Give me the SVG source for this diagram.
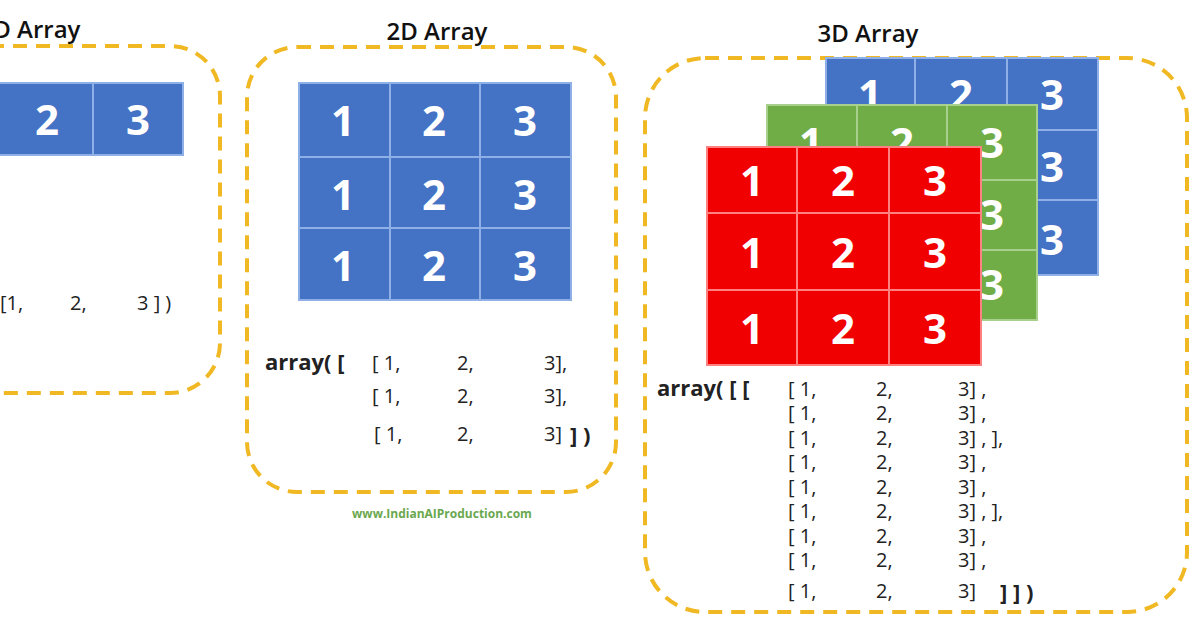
<svg xmlns="http://www.w3.org/2000/svg" width="1200" height="628" viewBox="0 0 1200 628">
<style>
.box{fill:none;stroke:#f0b823;stroke-width:4;stroke-dasharray:14 9}
.t{font-family:"Open Sans","Liberation Sans",sans-serif;font-size:24px;font-weight:600;fill:#111;text-anchor:middle}
.n{font-family:"Open Sans","Liberation Sans",sans-serif;font-size:42px;font-weight:bold;fill:#fff;text-anchor:middle}
.c{font-family:"Open Sans","Liberation Sans",sans-serif;font-size:20px;fill:#222}
.a{font-family:"Open Sans","Liberation Sans",sans-serif;font-size:22px;font-weight:bold;fill:#222}
.bl{fill:#4472c4;stroke:#8fb0e6;stroke-width:2}
.gr{fill:#70ad47;stroke:#a8d08d;stroke-width:2}
.rd{fill:#f00000;stroke:#ff8080;stroke-width:2}
</style>
<rect width="1200" height="628" fill="#fff"/>
<g id="array1d">
<text class="t" x="30" y="38">1D Array</text>
<rect class="box" x="-60" y="46" width="280" height="347" rx="50"/>
<rect class="bl" x="-2" y="83" width="95" height="72"/><rect class="bl" x="93" y="83" width="90" height="72"/>
<text class="n" x="47" y="135">2</text><text class="n" x="138" y="135">3</text>
<text class="c" x="0" y="310" font-size="21">[1,<tspan x="70">2,</tspan><tspan x="137">3 ] )</tspan></text>
</g>
<g id="array2d">
<text class="t" x="437" y="40">2D Array</text>
<rect class="box" x="247" y="47" width="369" height="445" rx="50"/>
<g>
<rect class="bl" x="299" y="83" width="91" height="74"/><rect class="bl" x="390" y="83" width="90" height="74"/><rect class="bl" x="480" y="83" width="91" height="74"/>
<rect class="bl" x="299" y="157" width="91" height="71"/><rect class="bl" x="390" y="157" width="90" height="71"/><rect class="bl" x="480" y="157" width="91" height="71"/>
<rect class="bl" x="299" y="228" width="91" height="72"/><rect class="bl" x="390" y="228" width="90" height="72"/><rect class="bl" x="480" y="228" width="91" height="72"/>
<text class="n" x="343" y="136">1</text><text class="n" x="434" y="136">2</text><text class="n" x="525" y="136">3</text>
<text class="n" x="343" y="210">1</text><text class="n" x="434" y="210">2</text><text class="n" x="525" y="210">3</text>
<text class="n" x="343" y="281">1</text><text class="n" x="434" y="281">2</text><text class="n" x="525" y="281">3</text>
</g>
<text class="a" x="265" y="370">array( [</text>
<text class="c" x="372" y="370">[ 1,<tspan x="457">2,</tspan><tspan x="544">3],</tspan></text>
<text class="c" x="372" y="403">[ 1,<tspan x="457">2,</tspan><tspan x="544">3],</tspan></text>
<text class="c" x="374" y="441">[ 1,<tspan x="457">2,</tspan><tspan x="544">3]</tspan></text>
<text class="a" x="570" y="443">] )</text>
<text x="442" y="518" font-family="'Open Sans','Liberation Sans',sans-serif" font-size="12" font-weight="bold" fill="#6aa84f" text-anchor="middle">www.IndianAIProduction.com</text>
</g>
<g id="array3d">
<text class="t" x="868" y="42">3D Array</text>
<rect class="box" x="645" y="58" width="542" height="554" rx="60"/>
<g id="layer-blue">
<rect class="bl" x="826" y="58" width="89" height="72"/><rect class="bl" x="915" y="58" width="92" height="72"/><rect class="bl" x="1007" y="58" width="91" height="72"/>
<rect class="bl" x="826" y="130" width="89" height="70"/><rect class="bl" x="915" y="130" width="92" height="70"/><rect class="bl" x="1007" y="130" width="91" height="70"/>
<rect class="bl" x="826" y="200" width="89" height="75"/><rect class="bl" x="915" y="200" width="92" height="75"/><rect class="bl" x="1007" y="200" width="91" height="75"/>
<text class="n" x="870" y="110">1</text><text class="n" x="961" y="110">2</text><text class="n" x="1052" y="110">3</text>
<text class="n" x="1052" y="182">3</text><text class="n" x="1052" y="255">3</text>
</g>
<g id="layer-green">
<rect class="gr" x="767" y="105" width="90" height="75"/><rect class="gr" x="857" y="105" width="90" height="75"/><rect class="gr" x="947" y="105" width="90" height="75"/>
<rect class="gr" x="767" y="180" width="90" height="70"/><rect class="gr" x="857" y="180" width="90" height="70"/><rect class="gr" x="947" y="180" width="90" height="70"/>
<rect class="gr" x="767" y="250" width="90" height="70"/><rect class="gr" x="857" y="250" width="90" height="70"/><rect class="gr" x="947" y="250" width="90" height="70"/>
<text class="n" x="811" y="158">1</text><text class="n" x="902" y="158">2</text><text class="n" x="992" y="158">3</text>
<text class="n" x="992" y="230">3</text><text class="n" x="992" y="300">3</text>
</g>
<g id="layer-red">
<rect class="rd" x="707" y="147" width="90" height="66"/><rect class="rd" x="797" y="147" width="92" height="66"/><rect class="rd" x="889" y="147" width="92" height="66"/>
<rect class="rd" x="707" y="213" width="90" height="77"/><rect class="rd" x="797" y="213" width="92" height="77"/><rect class="rd" x="889" y="213" width="92" height="77"/>
<rect class="rd" x="707" y="290" width="90" height="75"/><rect class="rd" x="797" y="290" width="92" height="75"/><rect class="rd" x="889" y="290" width="92" height="75"/>
<text class="n" x="752" y="196">1</text><text class="n" x="843" y="196">2</text><text class="n" x="935" y="196">3</text>
<text class="n" x="752" y="268">1</text><text class="n" x="843" y="268">2</text><text class="n" x="935" y="268">3</text>
<text class="n" x="752" y="344">1</text><text class="n" x="843" y="344">2</text><text class="n" x="935" y="344">3</text>
</g>
<text class="a" x="657" y="396">array( [ [</text>
<g>
<text class="c" x="788" y="396">[ 1,<tspan x="876">2,</tspan><tspan x="958">3] ,</tspan></text>
<text class="c" x="788" y="420">[ 1,<tspan x="876">2,</tspan><tspan x="958">3] ,</tspan></text>
<text class="c" x="788" y="445">[ 1,<tspan x="876">2,</tspan><tspan x="958">3] , ],</tspan></text>
<text class="c" x="788" y="469">[ 1,<tspan x="876">2,</tspan><tspan x="958">3] ,</tspan></text>
<text class="c" x="788" y="494">[ 1,<tspan x="876">2,</tspan><tspan x="958">3] ,</tspan></text>
<text class="c" x="788" y="518">[ 1,<tspan x="876">2,</tspan><tspan x="958">3] , ],</tspan></text>
<text class="c" x="788" y="543">[ 1,<tspan x="876">2,</tspan><tspan x="958">3] ,</tspan></text>
<text class="c" x="788" y="567">[ 1,<tspan x="876">2,</tspan><tspan x="958">3] ,</tspan></text>
<text class="c" x="788" y="598">[ 1,<tspan x="876">2,</tspan><tspan x="958">3]</tspan></text>
<text class="a" x="1000" y="600">] ] )</text>
</g>
</g>
</svg>
